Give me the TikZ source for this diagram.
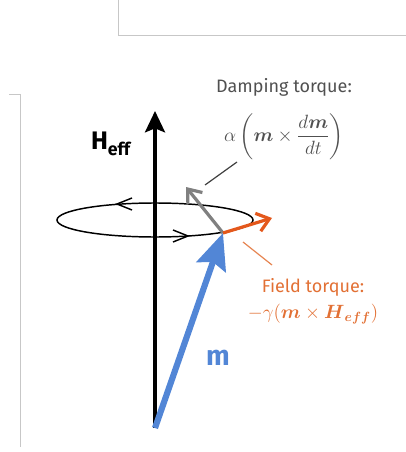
\documentclass[tikz,border=0pt]{standalone}
\usepackage{amsmath}
\usepackage{fontspec}
\setmainfont{Fira Sans}
\usetikzlibrary{arrows.meta,positioning}
\definecolor{mblue}{RGB}{82,134,214}
\definecolor{torqorange}{RGB}{228,88,28}
\definecolor{txtorange}{RGB}{226,112,52}
\definecolor{txtgray}{RGB}{80,80,80}

\begin{document}
\begin{tikzpicture}[x=0.75pt,y=-0.75pt,>=Stealth,
  frame/.style={draw=black!22,line width=0.75pt},
  ring/.style={draw=black,line width=1.1pt},
  axis/.style={draw=black,line width=2.6pt,-{Stealth[length=16pt,width=15pt,inset=3pt]}},
  mvec/.style={draw=mblue,line width=4.6pt,-{Stealth[length=27pt,width=23pt,inset=4pt]}},
  dvec/.style={draw=black!50,line width=2.4pt,-{Straight Barb[length=9pt,width=14pt]}},
  fvec/.style={draw=torqorange,line width=2.4pt,-{Straight Barb[length=9pt,width=14pt]}},
  lbl/.style={inner sep=0pt,align=center}]
\useasboundingbox (0,0) rectangle (405,452);
% page frame of the screenshot
\draw[frame] (118,-1) -- (118,36) -- (406,36);
\draw[frame] (9,95) -- (20,95) -- (20,447);

\coordinate (base) at (155,428);
\coordinate (top) at (155,111);
\coordinate (tip) at (223,233);
\coordinate (ctr) at (155,220);
\coordinate (dampend) at (186,187);
\coordinate (fieldend) at (272,218);

% precession ring
\draw[ring] (ctr) ellipse [x radius=98,y radius=17];
\draw[ring] (132,198) -- (117,204) -- (132,210);
\draw[ring] (173,230) -- (188,236) -- (173,242);

\draw[axis] (base) -- (top);
\draw[dvec] (tip) -- (dampend);
\draw[fvec] (tip) -- (fieldend);
\draw[mvec] (base) -- (tip);

\node[lbl,font=\bfseries\fontsize{19}{19}\selectfont] (hlabel) at (111,144) {H\textsubscript{eff}};
\node[lbl,text=mblue,font=\bfseries\fontsize{21}{21}\selectfont] (mlabel) at (218,358) {m};

\node[lbl,text=txtgray,font=\fontsize{13.5}{15}\selectfont] (damptxt) at (284,87) {Damping torque:};
\node[lbl,text=txtgray,font=\fontsize{15}{17}\selectfont,below=13pt of damptxt] (dampeq)
  {$\displaystyle\alpha\left(\boldsymbol{m}\times\frac{d\boldsymbol{m}}{dt}\right)$};
\node[lbl,text=txtorange,font=\fontsize{13.5}{15}\selectfont] (fieldtxt) at (313,287) {Field torque:};
\node[lbl,text=txtorange,font=\fontsize{14.5}{16}\selectfont,below=6pt of fieldtxt] (fieldeq)
  {$-\gamma(\boldsymbol{m}\times\boldsymbol{H}_{\boldsymbol{eff}})$};

% leader lines
\coordinate (dl1) at (205,185);
\coordinate (dl2) at (237,162);
\coordinate (fl1) at (243,242);
\coordinate (fl2) at (272,265);
\draw[draw=black!75,line width=0.9pt] (dl1) -- (dl2);
\draw[draw=txtorange!85,line width=0.9pt] (fl1) -- (fl2);
\end{tikzpicture}
\end{document}
